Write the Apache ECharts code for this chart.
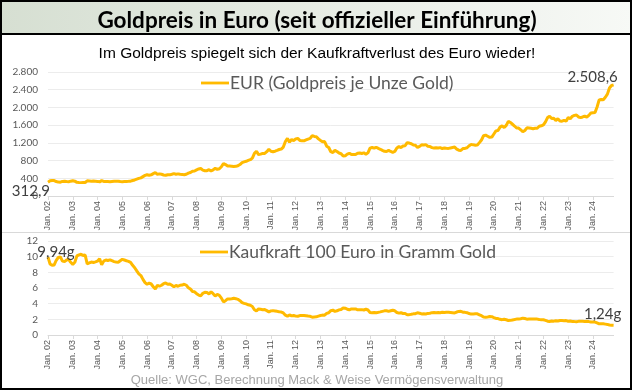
<!DOCTYPE html>
<html><head><meta charset="utf-8">
<script src="https://cdn.jsdelivr.net/npm/echarts@6/dist/echarts.min.js"></script>
<style>html,body{margin:0;padding:0;background:#fff}#c{width:634px;height:392px}</style>
</head><body><div id="c"></div>
<script>
const monthNames = ['Jan','Feb','Mär','Apr','Mai','Jun','Jul','Aug','Sep','Okt','Nov','Dez'];
const yearLabels = ['02','03','04','05','06','07','08','09','10','11','12','13','14','15','16','17','18','19','20','21','22','23','24'];
const priceTicks = [0,400,800,1200,1600,2000,2400,2800];
const gramTicks = [0,2,4,6,8,10,12];

// Goldpreis in EUR je Unze (monatlich, Jan. 02 – Nov. 24)
const goldEUR = [
312.9,343,350,348,326,314,312,330,332,325,322,335,
345,335,308,304,302,306,305,342,338,334,336,333,
330,320,347,330,325,327,324,328,332,334,335,328,
322,325,328,331,335,350,362,380,398,410,438,465,
480,470,478,505,530,490,500,490,475,468,480,478,
490,505,492,500,490,488,480,490,515,530,560,565,
590,610,622,585,570,572,595,565,590,625,600,615,
660,735,710,676,676,672,665,670,683,710,752,770,
784,805,820,855,962,1010,935,945,962,960,1000,1055,
1011,1000,1012,1030,1050,1060,1105,1230,1300,1215,1275,1250,
1290,1300,1255,1250,1245,1265,1285,1300,1365,1345,1340,1290,
1255,1225,1230,1125,1095,1000,980,1030,1005,970,955,900,
910,945,965,935,940,935,965,970,960,975,945,975,
1080,1095,1080,1100,1075,1055,1030,1010,1005,1030,1005,985,
1005,1085,1115,1095,1130,1135,1205,1195,1180,1150,1145,1095,
1120,1155,1150,1160,1125,1118,1092,1082,1090,1085,1092,1072,
1082,1078,1075,1085,1095,1105,1060,1035,1030,1070,1075,1090,
1135,1165,1155,1148,1150,1205,1265,1360,1375,1350,1325,1330,
1400,1470,1480,1555,1585,1545,1595,1685,1660,1620,1580,1535,
1535,1495,1450,1480,1540,1535,1530,1520,1528,1530,1575,1585,
1605,1675,1770,1800,1750,1755,1705,1745,1695,1690,1710,1690,
1770,1745,1800,1820,1830,1785,1770,1785,1805,1780,1820,1875,
1880,1885,2010,2170,2180,2175,2230,2300,2440,2495,2508.6
];

// Kaufkraft 100 Euro in Gramm Gold
const gramGold = [
9.94,9.07,8.89,8.94,9.54,9.91,9.97,9.43,9.37,9.57,9.66,9.28,
9.02,9.28,10.10,10.23,10.30,10.16,10.20,9.09,9.20,9.31,9.26,9.34,
9.43,9.72,8.96,9.43,9.57,9.51,9.60,9.48,9.37,9.31,9.28,9.48,
9.66,9.57,9.48,9.40,9.28,8.89,8.59,8.19,7.81,7.59,7.10,6.69,
6.48,6.62,6.51,6.16,5.87,6.35,6.22,6.35,6.55,6.65,6.48,6.51,
6.35,6.16,6.32,6.22,6.35,6.37,6.48,6.35,6.04,5.87,5.55,5.51,
5.27,5.10,5.00,5.32,5.46,5.44,5.23,5.51,5.27,4.98,5.18,5.06,
4.71,4.23,4.38,4.60,4.60,4.63,4.68,4.64,4.55,4.38,4.14,4.04,
3.97,3.86,3.79,3.64,3.23,3.08,3.33,3.29,3.23,3.24,3.11,2.95,
3.08,3.11,3.07,3.02,2.96,2.93,2.81,2.53,2.39,2.56,2.44,2.49,
2.41,2.39,2.48,2.49,2.50,2.46,2.42,2.39,2.28,2.31,2.32,2.41,
2.48,2.54,2.53,2.76,2.84,3.11,3.17,3.02,3.09,3.21,3.26,3.46,
3.42,3.29,3.22,3.33,3.31,3.33,3.22,3.21,3.24,3.19,3.29,3.19,
2.88,2.84,2.88,2.83,2.89,2.95,3.02,3.08,3.09,3.02,3.09,3.16,
3.09,2.87,2.79,2.84,2.75,2.74,2.58,2.60,2.64,2.70,2.72,2.84,
2.78,2.69,2.70,2.68,2.76,2.78,2.85,2.87,2.85,2.87,2.85,2.90,
2.87,2.89,2.89,2.87,2.84,2.81,2.93,3.01,3.02,2.91,2.89,2.85,
2.74,2.67,2.69,2.71,2.70,2.58,2.46,2.29,2.26,2.30,2.35,2.34,
2.22,2.12,2.10,2.00,1.96,2.01,1.95,1.85,1.87,1.92,1.97,2.03,
2.03,2.08,2.15,2.10,2.02,2.03,2.03,2.05,2.04,2.03,1.97,1.96,
1.94,1.86,1.76,1.73,1.78,1.77,1.82,1.78,1.84,1.84,1.82,1.84,
1.76,1.78,1.73,1.71,1.70,1.74,1.76,1.74,1.72,1.75,1.71,1.66,
1.65,1.65,1.55,1.43,1.43,1.43,1.39,1.35,1.27,1.25,1.24
];

const categories = [];
for (const y of yearLabels) for (const m of monthNames) {
  if (categories.length < goldEUR.length) categories.push(m + '. ' + y);
}

const GOLD = '#FFBA00';
const deNum = (v, dec) => {
  let s = dec != null ? v.toFixed(dec) : String(v);
  let [i, f] = s.split('.');
  i = i.replace(/\B(?=(\d{3})+(?!\d))/g, '.');
  return f ? i + ',' + f : i;
};

const lastIdx = goldEUR.length - 1;
const labelFont = {fontFamily: 'Lato, "Open Sans", sans-serif', fontSize: 15, color: '#404040'};
const mkLabel = (extra) => Object.assign({show: true}, labelFont, extra);
const topData = goldEUR.map((v, i) => {
  if (i === 0) return {value: v, label: mkLabel({position: 'left', distance: 0, offset: [2, 9], formatter: p => deNum(p.value)})};
  if (i === lastIdx) return {value: v, label: mkLabel({position: 'top', distance: 4, offset: [-21, 4], formatter: p => deNum(p.value, 1)})};
  return v;
});
const botData = gramGold.map((v, i) => {
  if (i === 0) return {value: v, label: mkLabel({position: 'top', distance: 0, offset: [8, 3], formatter: p => deNum(p.value, 2) + 'g'})};
  if (i === lastIdx) return {value: v, label: mkLabel({position: 'top', distance: 4, offset: [-11, 0], formatter: p => deNum(p.value, 2) + 'g'})};
  return v;
});

const xAxisBase = {
  type: 'category', data: categories, boundaryGap: false,
  axisLine: {lineStyle: {color: '#d9d9d9'}},
  axisTick: {show: true, interval: (i) => i % 12 === 0, length: 4, lineStyle: {color: '#d9d9d9'}},
  axisLabel: {interval: (i) => i % 12 === 0, rotate: 90, fontFamily: '"Liberation Sans Narrow", "Liberation Sans", Arial, sans-serif', fontSize: 9, color: '#595959', margin: 5},
  splitLine: {show: false}
};
const yAxisBase = {
  type: 'value',
  axisLine: {show: false}, axisTick: {show: false},
  splitLine: {lineStyle: {color: '#ececec'}},
  axisLabel: {fontFamily: 'Lato, "Open Sans", sans-serif', fontSize: 10, color: '#595959', margin: 10, formatter: v => deNum(v)}
};
const lineIcon = 'path://M0,0H30V3H0Z';
const legendText = {fontFamily: 'Lato, "Open Sans", sans-serif', fontSize: 17.5, color: '#595959'};

const chart = echarts.init(document.getElementById('c'), null, {renderer: 'canvas'});
chart.setOption({
  animation: false,
  backgroundColor: '#fff',
  title: [
    {text: 'Goldpreis in Euro (seit offizieller Einführung)', left: 'center', top: 4,
     textStyle: {fontFamily: 'Lato, "Open Sans", sans-serif', fontWeight: 'bold', fontSize: 22.5, color: '#000'}},
    {text: 'Im Goldpreis spiegelt sich der Kaufkraftverlust des Euro wieder!', left: 'center', top: 41,
     textStyle: {fontFamily: '"Liberation Sans", Arial, sans-serif', fontWeight: 'normal', fontSize: 15.5, color: '#000'}},
    {text: 'Quelle: WGC, Berechnung Mack & Weise Vermögensverwaltung', left: 'center', top: 369,
     textStyle: {fontFamily: '"Liberation Sans", Arial, sans-serif', fontWeight: 'normal', fontSize: 13, color: '#a6a6a6'}}
  ],
  graphic: [
    {type: 'rect', z: -10, shape: {x: 1, y: 1, width: 630, height: 33},
     style: {fill: new echarts.graphic.LinearGradient(0, 0, 1, 0, [{offset: 0, color: '#d6dfd2'}, {offset: 1, color: '#f7f9f6'}]), stroke: '#000', lineWidth: 2}},
    {type: 'rect', z: 100, shape: {x: 1, y: 1, width: 630, height: 388}, style: {fill: null, stroke: '#000', lineWidth: 2}},
    {type: 'line', z: 5, shape: {x1: 2, y1: 232.5, x2: 630, y2: 232.5}, style: {stroke: '#d9d9d9', lineWidth: 1}}
  ],
  legend: [
    {data: [{name: 'EUR (Goldpreis je Unze Gold)', icon: lineIcon}], left: 196, top: 69, itemWidth: 28, itemHeight: 3, itemGap: 0,
     textStyle: Object.assign({padding: [0, 0, 0, -4]}, legendText)},
    {data: [{name: 'Kaufkraft 100 Euro in Gramm Gold', icon: lineIcon}], left: 195, top: 238, itemWidth: 28, itemHeight: 3, itemGap: 0,
     textStyle: Object.assign({padding: [0, 0, 0, -4]}, legendText)}
  ],
  grid: [
    {left: 48, top: 72, width: 565.6, height: 124},
    {left: 48, top: 241, width: 565.6, height: 94}
  ],
  xAxis: [
    Object.assign({gridIndex: 0}, xAxisBase),
    Object.assign({gridIndex: 1}, xAxisBase)
  ],
  yAxis: [
    Object.assign({}, yAxisBase, {gridIndex: 0, min: priceTicks[0], max: priceTicks[priceTicks.length - 1], interval: priceTicks[1] - priceTicks[0]}),
    Object.assign({}, yAxisBase, {gridIndex: 1, min: gramTicks[0], max: gramTicks[gramTicks.length - 1], interval: gramTicks[1] - gramTicks[0]})
  ],
  series: [
    {name: 'EUR (Goldpreis je Unze Gold)', type: 'line', xAxisIndex: 0, yAxisIndex: 0, data: topData,
     symbol: 'circle', symbolSize: 0, showSymbol: true, showAllSymbol: true,
     lineStyle: {color: GOLD, width: 3}, itemStyle: {color: GOLD}, z: 10},
    {name: 'Kaufkraft 100 Euro in Gramm Gold', type: 'line', xAxisIndex: 1, yAxisIndex: 1, data: botData,
     symbol: 'circle', symbolSize: 0, showSymbol: true, showAllSymbol: true,
     lineStyle: {color: GOLD, width: 3}, itemStyle: {color: GOLD}, z: 10}
  ]
});
</script></body></html>
